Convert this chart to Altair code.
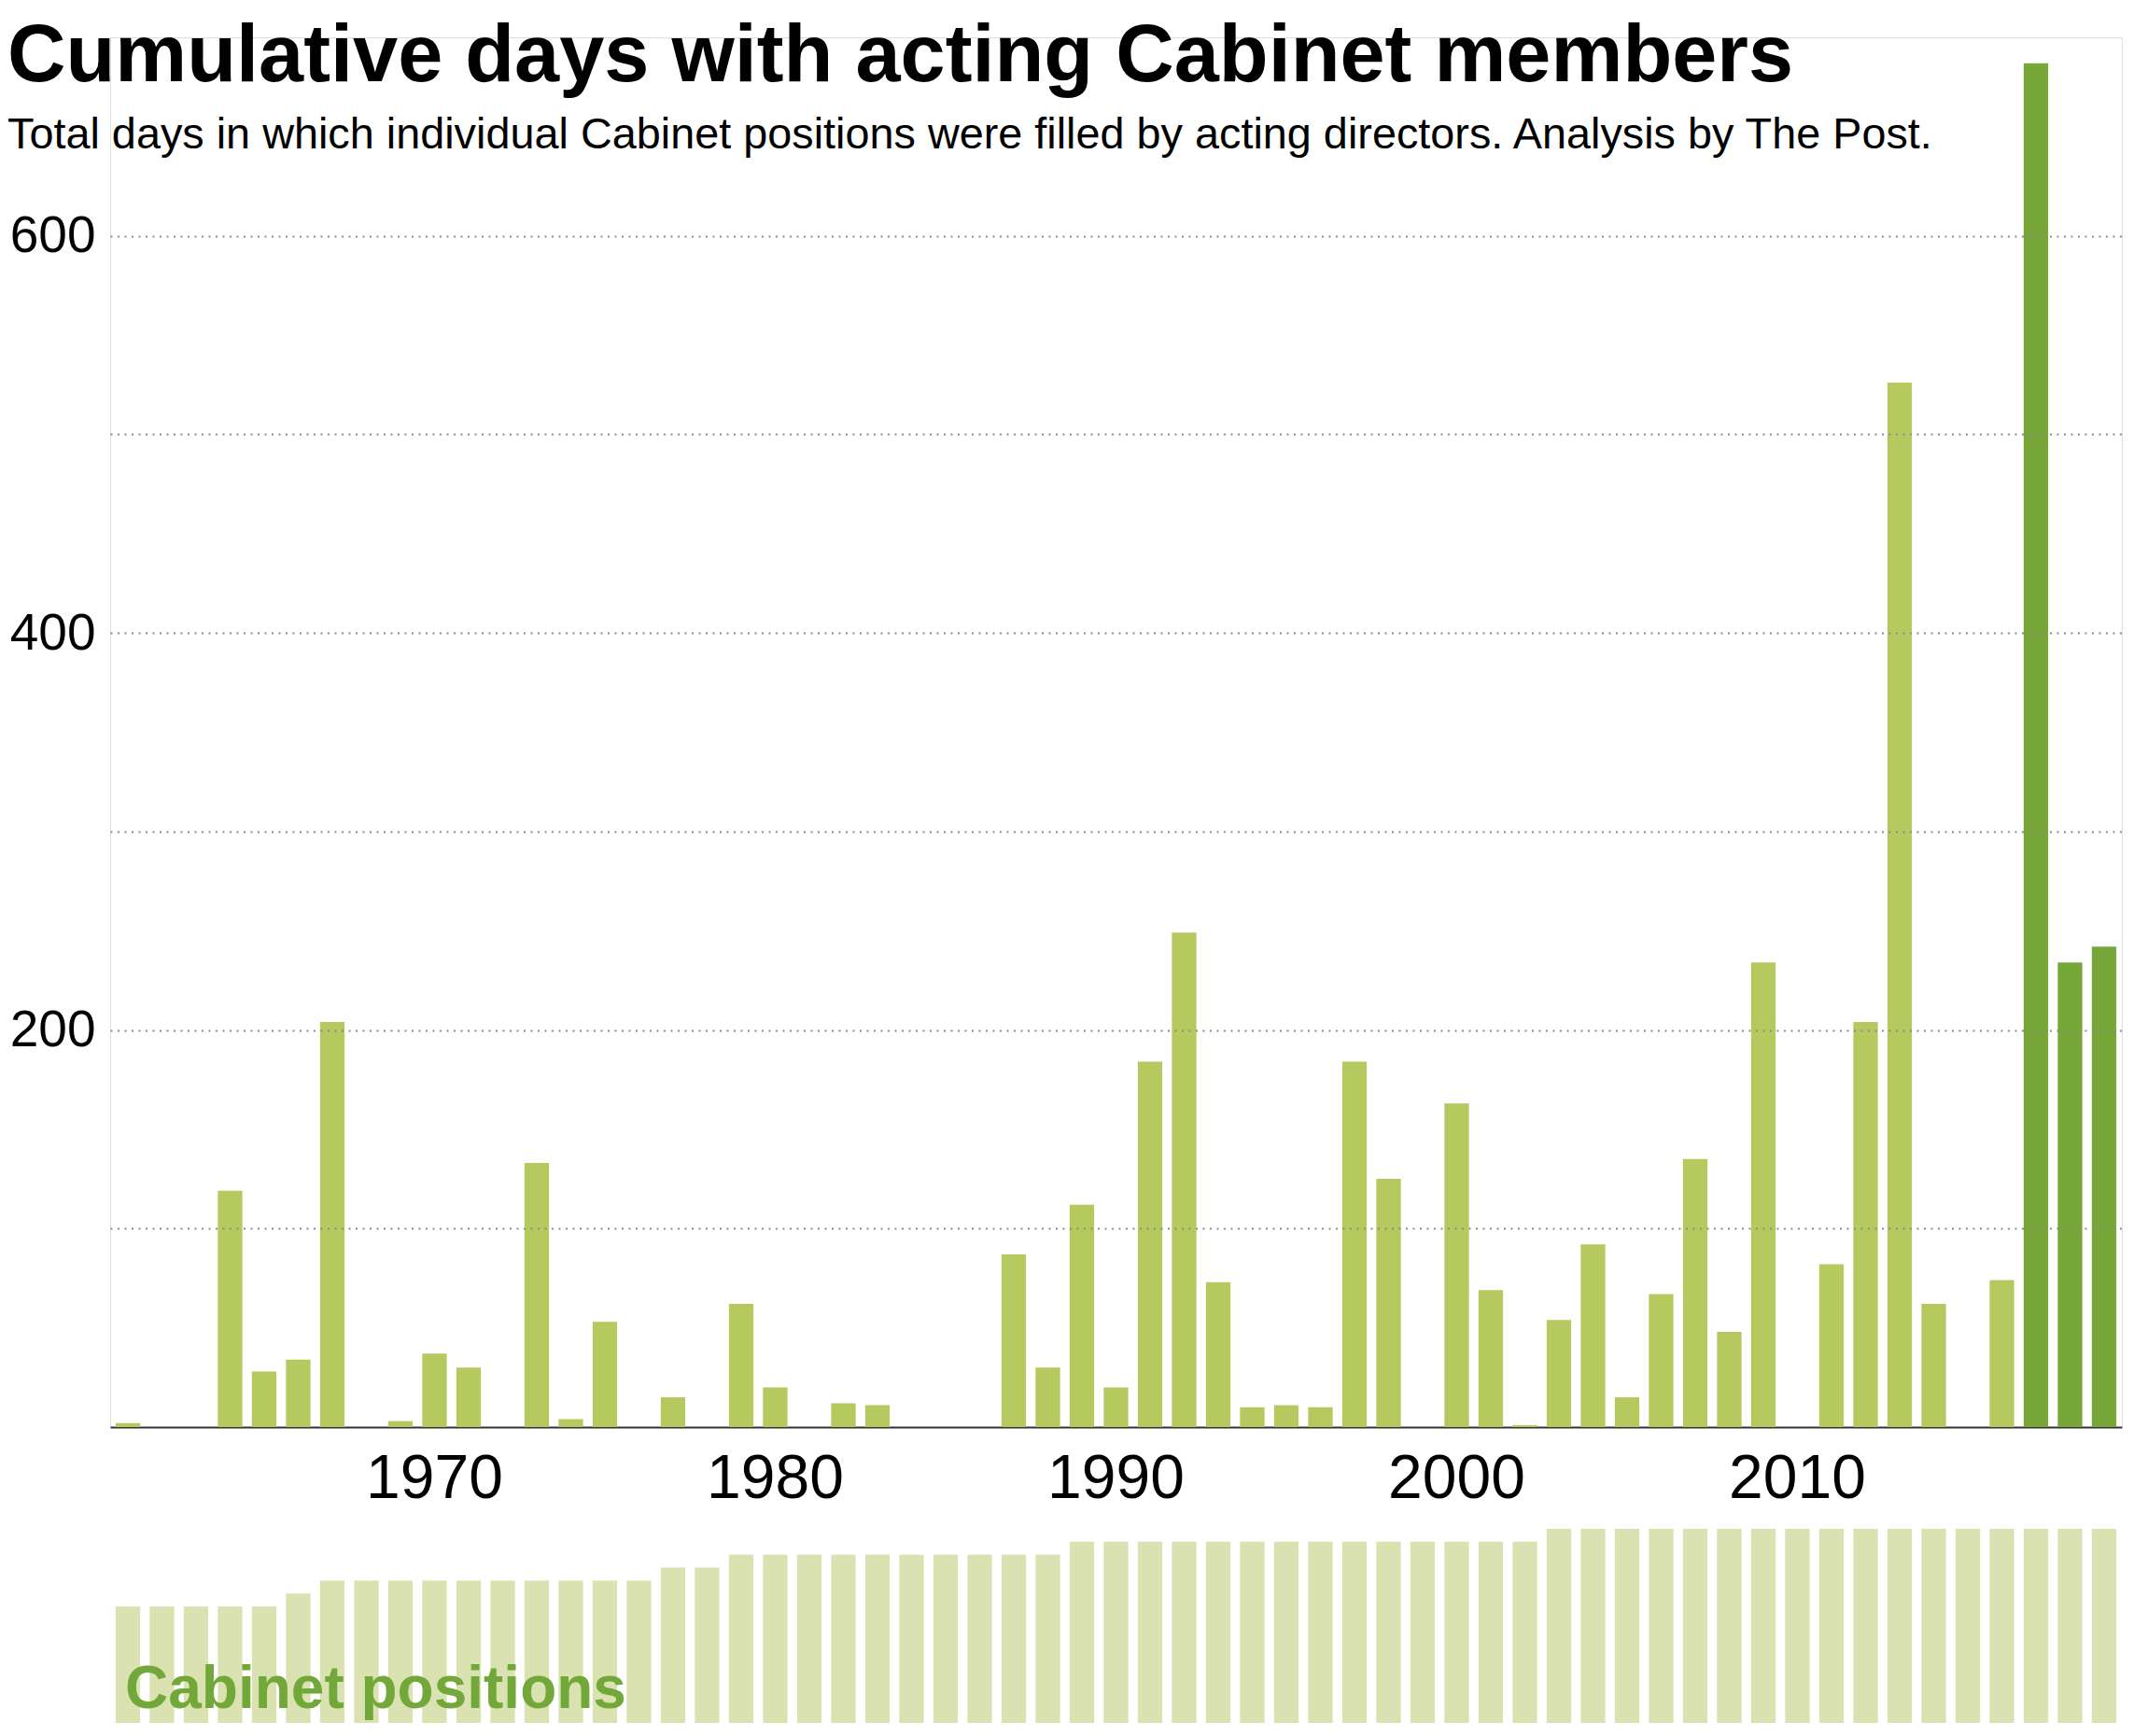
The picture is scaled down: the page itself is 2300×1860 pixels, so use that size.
import altair as alt
import pandas as pd

years = list(range(1961, 2020))
acting_days = [2, 0, 0, 119, 28, 34, 204, 0, 3, 37,
               30, 0, 133, 4, 53, 0, 15, 0, 62, 20,
               0, 12, 11, 0, 0, 0, 87, 30, 112, 20,
               184, 249, 73, 10, 11, 10, 184, 125, 0, 163,
               69, 1, 54, 92, 15, 67, 135, 48, 234, 0,
               82, 204, 526, 62, 0, 74, 687, 234, 242]
cabinet_positions = [9, 9, 9, 9, 9, 10, 11, 11, 11, 11,
                     11, 11, 11, 11, 11, 11, 12, 12, 13, 13,
                     13, 13, 13, 13, 13, 13, 13, 13, 14, 14,
                     14, 14, 14, 14, 14, 14, 14, 14, 14, 14,
                     14, 14, 15, 15, 15, 15, 15, 15, 15, 15,
                     15, 15, 15, 15, 15, 15, 15, 15, 15]
year_labels = [1970, 1980, 1990, 2000, 2010]
grid_values = [100, 200, 300, 400, 500, 600]

title_text = "Cumulative days with acting Cabinet members"
subtitle_text = ("Total days in which individual Cabinet positions were filled by acting "
                 "directors. Analysis by The Post.")
cabinet_label = "Cabinet positions"

LIGHT = "#b5c95e"
DARK = "#76a738"
PALE = "#d9e2b0"
LABEL_GREEN = "#72a83a"
FONT = "Liberation Sans"

df = pd.DataFrame({"year": years, "days": acting_days, "positions": cabinet_positions})

W, H = 2155, 1489

x_enc = alt.X(
    "year:O",
    scale=alt.Scale(paddingInner=0.28, paddingOuter=0.16),
    axis=alt.Axis(
        values=year_labels, title=None, labelAngle=0, ticks=False, tickSize=0,
        domainColor="#333333", domainWidth=2, labelFontSize=66, labelFont=FONT,
        labelColor="#000000", labelPadding=23, grid=False,
    ),
)

bars = alt.Chart(df).mark_bar().encode(
    x=x_enc,
    y=alt.Y(
        "days:Q",
        scale=alt.Scale(domain=[0, 700], nice=False),
        axis=alt.Axis(
            values=grid_values, title=None, domain=False, ticks=False, tickSize=0,
            labelExpr="datum.value % 200 == 0 ? datum.label : ''",
            labelFontSize=55, labelFont=FONT, labelColor="#000000", labelPadding=16,
            grid=True, gridColor="#8a8a8a", gridDash=[2, 5.5], gridWidth=2, zindex=1,
        ),
    ),
    color=alt.condition(alt.datum.year >= 2017, alt.value(DARK), alt.value(LIGHT)),
)

cabinet = alt.Chart(df).mark_bar(color=PALE).encode(
    x=x_enc,
    y=alt.Y("positions:Q", scale=alt.Scale(domain=[0, 15], range=[1806, 1598], nice=False), axis=None),
)

title = alt.Chart(pd.DataFrame({"t": [title_text]})).mark_text(
    align="left", baseline="alphabetic", font=FONT, fontSize=86.5, fontWeight="bold", color="#000000"
).encode(text="t:N", x=alt.value(-110), y=alt.value(47))

subtitle = alt.Chart(pd.DataFrame({"t": [subtitle_text]})).mark_text(
    align="left", baseline="alphabetic", font=FONT, fontSize=46.8, color="#000000"
).encode(text="t:N", x=alt.value(-110), y=alt.value(119))

cab_text = alt.Chart(pd.DataFrame({"t": [cabinet_label]})).mark_text(
    align="left", baseline="alphabetic", font=FONT, fontSize=64, fontWeight="bold", color=LABEL_GREEN
).encode(text="t:N", x=alt.value(16), y=alt.value(1790))

chart = alt.layer(cabinet, bars, title, subtitle, cab_text).resolve_scale(
    y="independent"
).properties(
    width=W, height=H,
    autosize=alt.AutoSizeParams(type="none"),
    padding={"left": 110, "top": 32, "right": 19, "bottom": 322},
).configure_view(stroke=None).configure(background="white")

chart.save("out.html", embed_options={"renderer": "svg", "actions": False})
